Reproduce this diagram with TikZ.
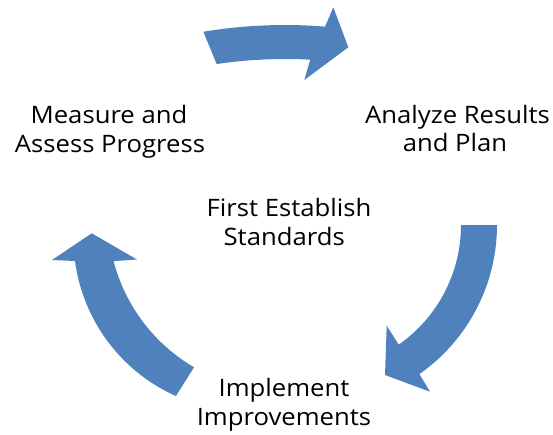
\documentclass[tikz,border=0pt]{standalone}
\usepackage{fontspec}
\setmainfont{Open Sans}[FakeStretch=1.07]
\definecolor{arrowblue}{HTML}{4F81BD}
\begin{document}
\begin{tikzpicture}[x=1pt,y=-1pt,
  arrowfill/.style={fill=arrowblue},
  lbl/.style={inner sep=0pt,anchor=base,font=\fontsize{24}{28}\selectfont,text=black}]
\useasboundingbox (0,0) rectangle (553,434);
% top arrow
\fill[arrowfill] plot[domain=-99.4:-85.4,samples=40,variable=\t] ({285+500*cos(\t)},{525+500*sin(\t)})
  -- (333.3,7.3) -- (348.3,47.3) -- (304.3,80)
  -- plot[domain=-86.9:-98.43,samples=40,variable=\t] ({285+466*cos(\t)},{525+466*sin(\t)}) -- cycle;
% right arrow
\fill[arrowfill] plot[domain=0:55,samples=60,variable=\t] ({315+182*cos(\t)},{225+182*sin(\t)})
  -- (430,391.7) -- (385,375) -- (386.7,325.7)
  -- plot[domain=55:0,samples=60,variable=\t] ({315+146*cos(\t)},{225+146*sin(\t)}) -- cycle;
% left arrow
\fill[arrowfill] (91.7,233.3) -- (52,260)
  -- plot[domain=172.43:114,samples=60,variable=\t] ({246.2+172.7*cos(\t)},{238.25+172.7*sin(\t)})
  -- plot[domain=120.3:165.4,samples=60,variable=\t] ({281.6+173.6*cos(\t)},{217.4+173.6*sin(\t)})
  -- (137,259.5) -- cycle;
% labels
\node[lbl] (m1) at (109,123.3) {Measure and};
\node[lbl] (m2) at (110,152.3) {Assess Progress};
\node[lbl] (a1) at (457.5,123.3) {Analyze Results};
\node[lbl] (a2) at (455,151.7) {and Plan};
\node[lbl] (f1) at (289,216.7) {First Establish};
\node[lbl] (f2) at (284.2,245) {Standards};
\node[lbl] (i1) at (284,396.7) {Implement};
\node[lbl] (i2) at (284,425) {Improvements};
\end{tikzpicture}
\end{document}
